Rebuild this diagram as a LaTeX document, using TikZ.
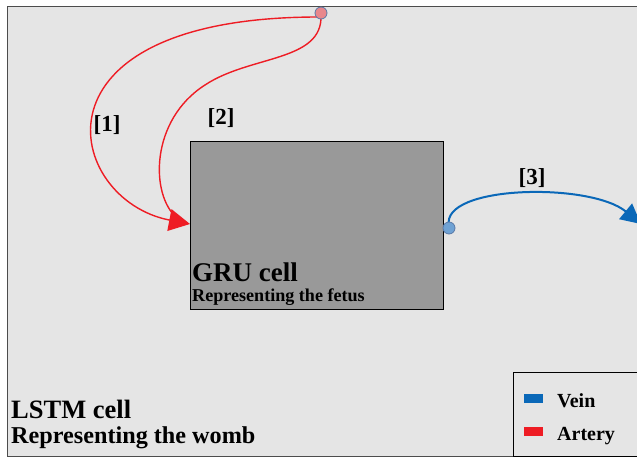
\documentclass[tikz,border=0pt]{standalone}
\usepackage{fontspec}
\setmainfont{Liberation Serif}
\usetikzlibrary{arrows.meta}
\definecolor{bgc}{HTML}{E5E5E5}
\definecolor{gruc}{HTML}{999999}
\definecolor{veinc}{HTML}{0A68B8}
\definecolor{artc}{HTML}{EE1C24}
\definecolor{pinkc}{HTML}{E8878C}
\definecolor{bluec}{HTML}{6FA2D4}
\definecolor{rimc}{HTML}{5A7AA8}
\tikzset{
  lbl/.style={font=\bfseries\fontsize{23}{26}\selectfont, inner sep=0pt},
  port/.style={circle, draw=rimc, line width=0.8pt, minimum size=12pt, inner sep=0pt},
  artery/.style={draw=artc, line width=1.4pt},
  vein/.style={draw=veinc, line width=2pt},
  txt/.style={inner sep=0pt, anchor=base west}
}
\begin{document}
\begin{tikzpicture}[x=1pt,y=-1pt]
\useasboundingbox (0,0) rectangle (637,458);
\clip (0,0) rectangle (637,458);
\fill[white] (0,0) rectangle (637,458);
% outer LSTM cell
\draw[fill=bgc, draw=black!70, line width=0.8pt] (7,6) rectangle (660,456);
% GRU cell
\node[draw=black, fill=gruc, line width=0.8pt, minimum width=253pt, minimum height=168pt, inner sep=0pt, anchor=north west] (gru) at (190,141) {};
\node[txt, font=\bfseries\fontsize{27}{30}\selectfont] (grut) at (192,281) {GRU cell};
\node[txt, font=\bfseries\fontsize{18.1}{20}\selectfont] (grus) at (192,301) {Representing the fetus};
\node[txt, font=\bfseries\fontsize{26.5}{30}\selectfont] (lstmt) at (11,418) {LSTM cell};
\node[txt, font=\bfseries\fontsize{24.2}{26}\selectfont] (lstms) at (11,443) {Representing the womb};
% ports
\coordinate (tip) at (190,224);
\coordinate (tipin) at (177,218);
\coordinate (vtip) at (641,224);
% arteries
\draw[artery] (321,15) .. controls (323,62) and (250,55) .. (205,85) .. controls (150,120) and (150,195) .. (tipin);
\draw[artery, -{Triangle[length=21pt,width=22pt]}] (321,17) .. controls (20,16) and (65,200) .. (tip);
\node[port, fill=pinkc] (pa) at (321,13) {};
% vein
\draw[vein, -{Triangle[length=20pt,width=20pt]}] (449,226) .. controls (440,185) and (590,182) .. (vtip);
\node[port, fill=bluec] (pv) at (449,228) {};
% labels
\node[lbl] (l1) at (107,125) {[1]};
\node[lbl] (l2) at (221,118) {[2]};
\node[lbl] (l3) at (532,178) {[3]};
% legend
\draw[fill=bgc, draw=black, line width=0.8pt] (513,372) rectangle (660,456);
\fill[veinc] (524,394) rectangle (543,403);
\fill[artc] (524,427) rectangle (543,436);
\node[txt, font=\bfseries\fontsize{20}{24}\selectfont] (lv) at (557,407) {Vein};
\node[txt, font=\bfseries\fontsize{20}{24}\selectfont] (la) at (557,440) {Artery};
\end{tikzpicture}
\end{document}
